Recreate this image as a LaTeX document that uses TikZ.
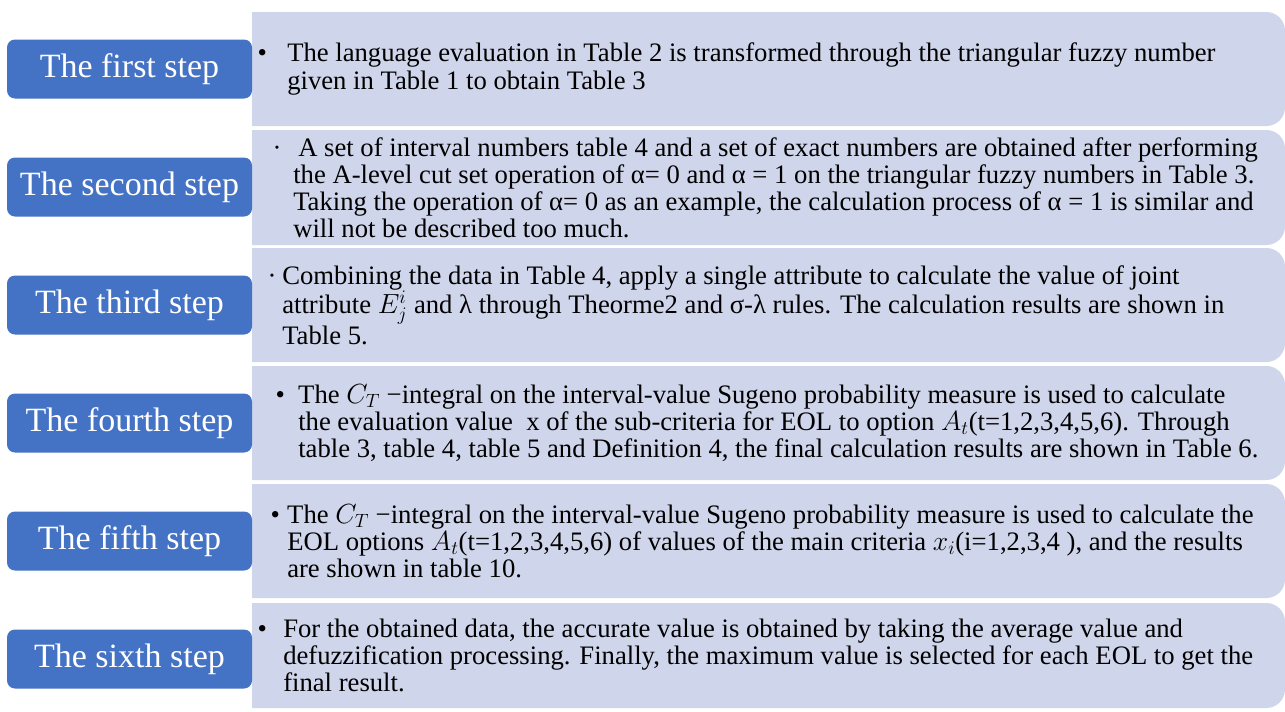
\documentclass[tikz,border=0pt]{standalone}
\usepackage{fontspec}
\setmainfont{Liberation Serif}
\usetikzlibrary{positioning}
\definecolor{stepblue}{RGB}{68,114,196}
\definecolor{panelgray}{RGB}{207,213,234}
\newcommand\bigdot[1]{\llap{\textbullet\hspace{#1}}}
\newcommand\middot[1]{\llap{·\hspace{#1}}}

\begin{document}
\begin{tikzpicture}[x=0.75pt, y=-0.75pt,
        every node/.style={font=\fontsize{20}{20.3}\selectfont},
        stepbox/.style={rectangle, rounded corners=6pt, fill=stepblue, text=white, minimum width=183.75pt, minimum height=44.25pt, inner sep=0pt, font=\fontsize{25.5}{26}\selectfont},
        panel/.style={fill=panelgray},
        steptext/.style={anchor=west, align=left, inner sep=0pt}
    ]
    \useasboundingbox (0,0) rectangle (1285,711);
    \foreach \i/\lab/\ya/\yb in {1/first/12/126, 2/second/130/245, 3/third/248/362, 4/fourth/366/480, 5/fifth/484/598, 6/sixth/603/708} {
        \fill[panel] (252,\ya) [rounded corners=14pt] -- (1285,\ya) -- (1285,\yb) [sharp corners] -- (252,\yb) -- cycle;
        \node[stepbox] (step\i) at (129.5, {69+118*(\i-1)}) {The \lab\ step};
    }
    \node[steptext] (t1) at (287,69) {\bigdot{15.25pt}The language evaluation in Table 2 is transformed through the triangular fuzzy number\\given in Table 1 to obtain Table 3};
    \node[steptext] (t2) at (293,187.5) {\middot{8.75pt}\hspace*{3.75pt}A set of interval numbers table 4 and a set of exact numbers are obtained after performing\\the A-level cut set operation of α= 0 and α = 1 on the triangular fuzzy numbers in Table 3.\\Taking the operation of α= 0 as an example, the calculation process of α = 1 is similar and\\will not be described too much.};
    \node[steptext] (t3) at (282,305) {\middot{4.25pt}Combining the data in Table 4, apply a single attribute to calculate the value of joint\\attribute $E_j^i$ and λ through Theorme2 and σ-λ rules. The calculation results are shown in\\Table 5.};
    \node[steptext] (t4) at (298,423) {\bigdot{10pt}The $C_T$ −integral on the interval-value Sugeno probability measure is used to calculate\\the evaluation value\ \ x of the sub-criteria for EOL to option $A_t$(t=1,2,3,4,5,6). Through\\table 3, table 4, table 5 and Definition 4, the final calculation results are shown in Table 6.};
    \node[steptext] (t5) at (287,541) {\bigdot{5.5pt}The $C_T$ −integral on the interval-value Sugeno probability measure is used to calculate the\\EOL options $A_t$(t=1,2,3,4,5,6) of values of the main criteria $x_i$(i=1,2,3,4 ), and the results\\are shown in table 10.};
    \node[steptext] (t6) at (283,655.5) {\bigdot{12.25pt}For the obtained data, the accurate value is obtained by taking the average value and\\defuzzification processing. Finally, the maximum value is selected for each EOL to get the\\final result.};
\end{tikzpicture}
\end{document}
